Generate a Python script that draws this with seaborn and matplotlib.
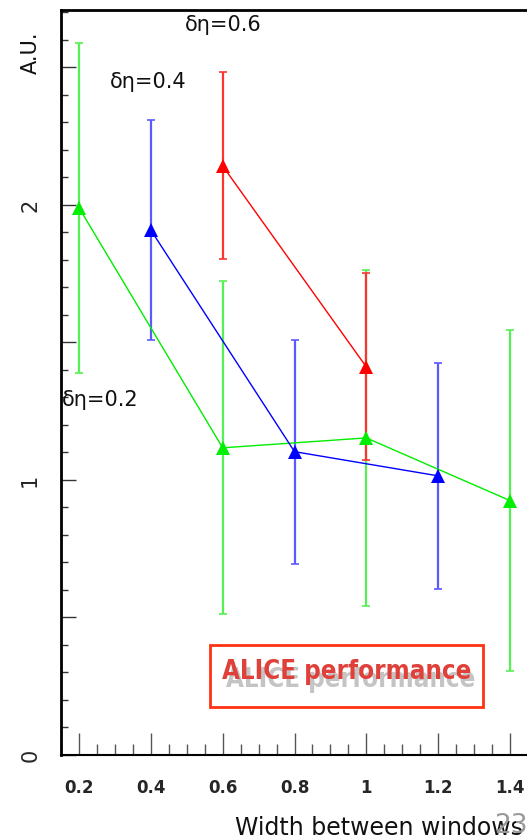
import matplotlib
matplotlib.use("Agg")
import matplotlib.pyplot as plt
from matplotlib.ticker import MultipleLocator
from matplotlib.patches import Rectangle
import matplotlib.transforms as mtransforms
import numpy as np
import pandas as pd
import seaborn as sns

# Correlation strength vs. width between windows for three window sizes
deta_02_x = [0.2, 0.6, 1.0, 1.4]
deta_02_y = [1.99, 1.117, 1.153, 0.925]
deta_02_err = [0.60, 0.605, 0.61, 0.62]

deta_04_x = [0.4, 0.8, 1.2]
deta_04_y = [1.909, 1.103, 1.015]
deta_04_err = [0.40, 0.407, 0.41]

deta_06_x = [0.6, 1.0]
deta_06_y = [2.142, 1.411]
deta_06_err = [0.34, 0.34]

series_names = ["δη=0.2", "δη=0.4", "δη=0.6"]
series_colors = {"δη=0.2": "#00ee00", "δη=0.4": "#0000ff", "δη=0.6": "#ff0000"}
errbar_colors = {"δη=0.2": "#55f055", "δη=0.4": "#5a5aff", "δη=0.6": "#ff3333"}

x_ticks = [0.2, 0.4, 0.6, 0.8, 1.0, 1.2, 1.4]
x_tick_labels = ["0.2", "0.4", "0.6", "0.8", "1", "1.2", "1.4"]
y_ticks = [0, 0.5, 1.0, 1.5, 2.0, 2.5]
y_tick_labels = ["0", "", "1", "", "2", ""]

frames = []
for name, xs, ys, es in zip(series_names,
                            [deta_02_x, deta_04_x, deta_06_x],
                            [deta_02_y, deta_04_y, deta_06_y],
                            [deta_02_err, deta_04_err, deta_06_err]):
    frames.append(pd.DataFrame({"width": xs, "value": ys, "err": es, "deta": name}))
df = pd.concat(frames, ignore_index=True)

sns.set_style("ticks")
plt.rcParams["font.family"] = ["DejaVu Sans"]

W, H = 527, 839
fig = plt.figure(figsize=(W / 100, H / 100), dpi=100)
ax = fig.add_axes([61 / W, 84 / H, 467 / W, 745 / H])

# error bars first, markers and lines on top
for i, name in enumerate(series_names):
    sub = df[df["deta"] == name]
    ax.errorbar(sub["width"], sub["value"], yerr=sub["err"], fmt="none",
                ecolor=errbar_colors[name], elinewidth=1.6, capsize=3,
                capthick=1.2, zorder=2 + 0.1 * i)

sns.lineplot(data=df, x="width", y="value", hue="deta", palette=series_colors,
             hue_order=series_names, marker="^", markersize=10,
             markeredgewidth=0, linewidth=1, estimator=None, sort=False,
             legend=False, ax=ax, zorder=3)

ax.set_xlim(0.15, 1.45)
ax.set_ylim(0, 2.709)

ax.set_xticks(x_ticks)
ax.set_xticklabels(x_tick_labels, fontsize=12, fontweight="bold")
ax.xaxis.set_minor_locator(MultipleLocator(0.05))
ax.set_yticks(y_ticks)
ax.set_yticklabels(y_tick_labels, fontsize=15, rotation=90, va="center")
ax.yaxis.set_minor_locator(MultipleLocator(0.1))

ax.tick_params(axis="x", which="major", direction="in", length=15.8, width=1,
               color="#555555", pad=17)
ax.tick_params(axis="x", which="minor", direction="in", length=7.9, width=1,
               color="#555555")
ax.tick_params(axis="y", which="major", direction="in", length=10.8, width=1,
               color="#333333", pad=15)
ax.tick_params(axis="y", which="minor", direction="in", length=5, width=1,
               color="#333333")

for side in ["left", "top", "bottom", "right"]:
    ax.spines[side].set_visible(True)
    ax.spines[side].set_color("black")
ax.spines["left"].set_linewidth(2)
ax.spines["top"].set_linewidth(2)
ax.spines["bottom"].set_linewidth(1.5)
ax.set_xlabel("")
ax.set_ylabel("")

# window-size annotations
ax.text(0.495, 2.655, "δη=0.6", fontsize=15, ha="left", va="center", color="#111111")
ax.text(0.286, 2.447, "δη=0.4", fontsize=15, ha="left", va="center", color="#111111")
ax.text(0.153, 1.291, "δη=0.2", fontsize=15, ha="left", va="center", color="#111111")

# axis titles
fig.text(31 / W, 1 - 53 / H, "A.U.", rotation=90, fontsize=15, ha="center",
         va="center", color="#111111")
fig.text(235 / W, 1 - 828 / H, "Width between windows", fontsize=17,
         ha="left", va="center", color="#111111")

# performance badge
ax.add_patch(Rectangle((0.319, 0.0644), 0.585, 0.0832, transform=ax.transAxes,
                       fill=False, edgecolor="#ff3311", linewidth=2, zorder=4))
badge_font = dict(fontsize=18.5, fontweight="bold", ha="center", va="center",
                  family=["DejaVu Sans"], fontstretch="condensed")
shadow = mtransforms.offset_copy(ax.transAxes, fig=fig, x=4, y=-8, units="dots")
ax.text(0.612, 0.1114, "ALICE performance", color="#c4c4c4", transform=shadow,
        zorder=4, **badge_font)
ax.text(0.612, 0.1114, "ALICE performance", color="#e0403a",
        transform=ax.transAxes, zorder=5, **badge_font)

# page number
fig.text(494 / W, 1 - 826 / H, "23", fontsize=19, ha="left", va="center",
         color="#999999")

fig.savefig("out.png", dpi=100, facecolor="white")
